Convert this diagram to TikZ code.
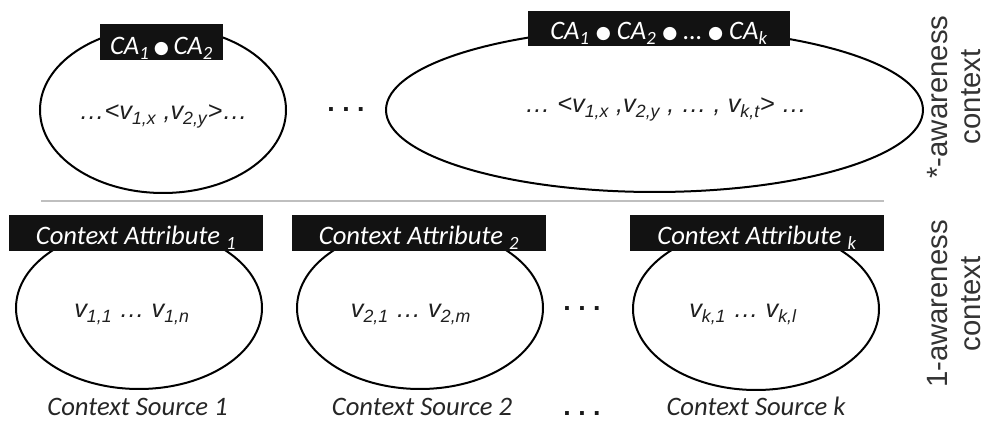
\documentclass[tikz,border=0pt]{standalone}
\usepackage{fontspec}
\setmainfont{Carlito}
\newfontfamily\sidefont{Liberation Sans}
\newfontfamily\valfont{Liberation Sans}
\newfontfamily\bulletfont{DejaVu Sans}
\usetikzlibrary{shapes.geometric}

\newcommand{\cabullet}{\raisebox{1.2pt}{\bulletfont\fontsize{13}{13}\selectfont ●}}

\tikzset{
  ctxellipse/.style={draw,ellipse,line width=1.5pt,inner sep=0pt},
  attrbox/.style={fill=black!93,inner sep=0pt},
  attrtext/.style={text=white,inner sep=0pt,anchor=base,font=\fontsize{20}{22}\selectfont\itshape},
  valtext/.style={text=black!88,inner sep=0pt,anchor=base,font=\valfont\fontsize{19}{22}\selectfont\itshape},
  srctext/.style={text=black!85,inner sep=0pt,anchor=base,font=\fontsize{20}{22}\selectfont\itshape},
  sidetext/.style={text=black!80,inner sep=0pt,rotate=90,align=center,font=\sidefont\fontsize{22}{25}\selectfont},
  moredots/.style={text=black!90,inner sep=0pt,font=\valfont\bfseries\fontsize{20}{20}\selectfont}
}

\begin{document}
\begin{tikzpicture}[x=0.75pt,y=-0.75pt]
  \useasboundingbox (0,0) rectangle (989,423);

  % *-awareness context
  \node[ctxellipse,minimum width=184.5pt,minimum height=124.5pt] (star1) at (163,110) {};
  \node[ctxellipse,minimum width=402.75pt,minimum height=123pt] (star2) at (654.5,110) {};
  \node[attrbox,minimum width=92.25pt,minimum height=27pt] (cabox1) at (161.5,42) {};
  \node[attrbox,minimum width=196.5pt,minimum height=26.25pt] (cabox2) at (659,28.5) {};
  \node[attrtext] (catext1) at (161.5,55) {CA\textsubscript{1}\,\cabullet\,CA\textsubscript{2}};
  \node[attrtext] (catext2) at (659,40) {CA\textsubscript{1} \cabullet\ CA\textsubscript{2} \cabullet\ \dots\ \cabullet\ CA\textsubscript{k}};
  \node[valtext] (tuple1) at (163.5,120) {\dots{}<v\textsubscript{1,x} ,v\textsubscript{2,y}>\dots};
  \node[valtext] (tuple2) at (666,113) {\dots\ <v\textsubscript{1,x} ,v\textsubscript{2,y} , \dots\ , v\textsubscript{k,t}> \dots};
  \node[moredots] (gapstar) at (346,110) {.\ .\ .};

  \draw[black!25,line width=1.5pt] (41,201) -- (884,201);

  % 1-awareness context
  \node[ctxellipse,minimum width=184.5pt,minimum height=121.5pt] (src1) at (139,308) {};
  \node[ctxellipse,minimum width=184.5pt,minimum height=121.5pt] (src2) at (420,308) {};
  \node[ctxellipse,minimum width=184.5pt,minimum height=121.5pt] (srck) at (756,309) {};
  \node[attrbox,minimum width=190.5pt,minimum height=27pt] (attr1) at (136,233) {};
  \node[attrbox,minimum width=190.5pt,minimum height=27pt] (attr2) at (419,233) {};
  \node[attrbox,minimum width=190.5pt,minimum height=27pt] (attrk) at (757,233) {};
  \node[attrtext] (attrtext1) at (136,245) {Context Attribute \textsubscript{1}};
  \node[attrtext] (attrtext2) at (419,245) {Context Attribute \textsubscript{2}};
  \node[attrtext] (attrtextk) at (757,245) {Context Attribute \textsubscript{k}};
  \node[valtext] (vals1) at (132,318) {v\textsubscript{1,1} \dots\ v\textsubscript{1,n}};
  \node[valtext] (vals2) at (411,318) {v\textsubscript{2,1} \dots\ v\textsubscript{2,m}};
  \node[valtext] (valsk) at (743,318) {v\textsubscript{k,1} \dots\ v\textsubscript{k,l}};
  \node[moredots] (gapsrc) at (582,309) {.\ .\ .};
  \node[moredots] (gapfoot) at (582,414) {.\ .\ .};
  \node[srctext] (name1) at (137.5,416) {Context Source 1};
  \node[srctext] (name2) at (422,416) {Context Source 2};
  \node[srctext] (namek) at (756,416) {Context Source k};

  \node[sidetext] (starlabel) at (954,97) {*-awareness\\context};
  \node[sidetext] (onelabel) at (954,304) {1-awareness\\context};
\end{tikzpicture}
\end{document}
